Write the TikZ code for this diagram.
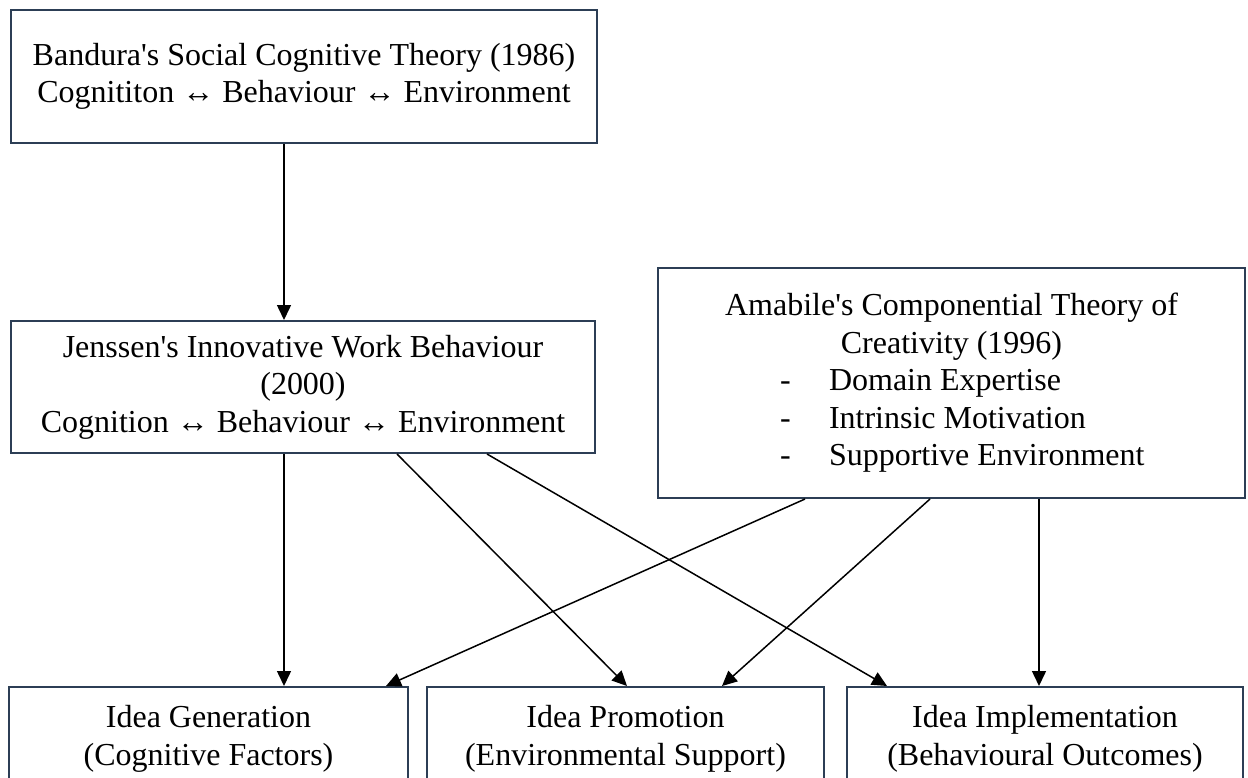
\documentclass[tikz,border=0pt]{standalone}
\usepackage{fontspec}
\setmainfont{Liberation Serif}[Ligatures=TeXOff]
\usetikzlibrary{arrows.meta}
\definecolor{boxc}{RGB}{44,62,85}
\newcommand{\lstitem}[1]{\makebox[343pt][l]{\makebox[49pt][l]{-}#1}}
\begin{document}
\begin{tikzpicture}[x=1pt,y=-1pt,
  box/.style={draw=boxc, line width=2pt, align=center, inner sep=0pt,
    font=\fontsize{32}{37.5}\selectfont},
  conn/.style={draw=black, line width=1.5pt, -{Triangle[length=15pt,width=14pt]}}]
\useasboundingbox (0,0) rectangle (1248,777);
\clip (0,0) rectangle (1248,777);
\node[box, minimum width=586pt, minimum height=133pt] (bandura) at (304,76.5)
  {Bandura's Social Cognitive Theory (1986)\\Cognititon ↔ Behaviour ↔ Environment};
\node[box, minimum width=584pt, minimum height=132pt] (jenssen) at (303,387)
  {Jenssen's Innovative Work Behaviour\\(2000)\\Cognition ↔ Behaviour ↔ Environment};
\node[box, minimum width=587pt, minimum height=230pt] (amabile) at (951.5,383)
  {Amabile's Componential Theory of\\Creativity (1996)\\\lstitem{Domain Expertise}\\\lstitem{Intrinsic Motivation}\\\lstitem{Supportive Environment}};
\node[box, minimum width=399pt, minimum height=104pt] (gen) at (208.5,739)
  {Idea Generation\\(Cognitive Factors)};
\node[box, minimum width=397pt, minimum height=104pt] (promo) at (625.5,739)
  {Idea Promotion\\(Environmental Support)};
\node[box, minimum width=396pt, minimum height=104pt] (impl) at (1045,739)
  {Idea Implementation\\(Behavioural Outcomes)};
\draw[conn] ([xshift=-20pt]bandura.south) -- ([xshift=-19pt]jenssen.north);
\draw[conn] ([xshift=-19pt]jenssen.south) -- ([xshift=75.5pt]gen.north);
\draw[conn] ([xshift=94pt]jenssen.south) -- ([xshift=1.5pt]promo.north);
\draw[conn] ([xshift=184pt]jenssen.south) -- ([xshift=-158pt]impl.north);
\draw[conn] ([xshift=-146.5pt]amabile.south) -- ([xshift=177.5pt]gen.north);
\draw[conn] ([xshift=-21.5pt]amabile.south) -- ([xshift=96.5pt]promo.north);
\draw[conn] ([xshift=87.5pt]amabile.south) -- ([xshift=-6pt]impl.north);
\end{tikzpicture}
\end{document}
